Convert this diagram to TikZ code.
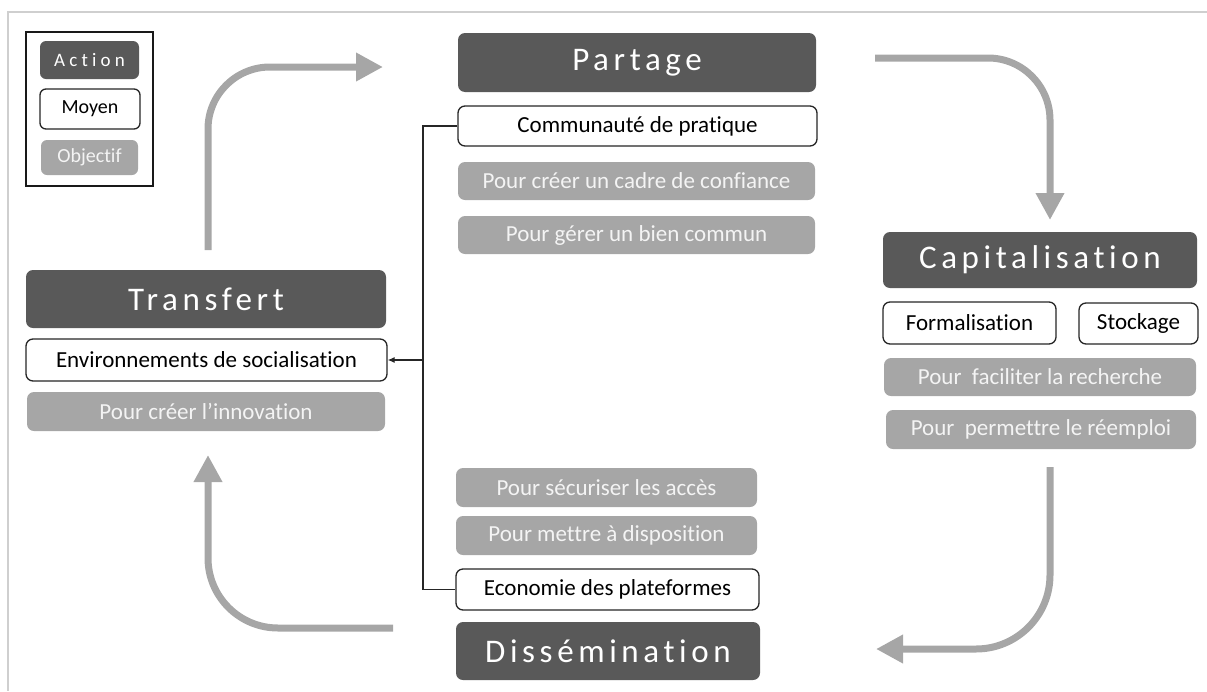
\documentclass[tikz,border=0pt]{standalone}
\usepackage{fontspec}
\setmainfont{Carlito}[Ligatures=NoCommon]
\usetikzlibrary{arrows.meta}
\definecolor{darkbox}{HTML}{595959}
\definecolor{objbox}{HTML}{A6A6A6}
\definecolor{arrowgray}{HTML}{A6A6A6}
\definecolor{framegray}{HTML}{CFCFCF}
\definecolor{objtext}{HTML}{F4F4F4}
\tikzset{
  basebox/.style={rounded corners=7pt, inner sep=0pt, align=center},
  actionbox/.style={basebox, fill=darkbox, text=white,
    font=\fontsize{33}{38}\selectfont\addfontfeature{LetterSpace=14}},
  moyenbox/.style={basebox, draw=black!85, line width=1.3pt, fill=white, text=black,
    font=\fontsize{23}{27}\selectfont},
  objbox/.style={basebox, fill=objbox, text=objtext,
    font=\fontsize{23}{27}\selectfont},
  conn/.style={draw=black!85, line width=1.2pt},
  bigarrow/.style={draw=arrowgray, line width=7pt, -{Triangle[length=27pt,width=27pt]}},
}
\begin{document}
\begin{tikzpicture}[x=1pt,y=-1pt]
\useasboundingbox (0,0) rectangle (1207,691);
% frame
\draw[framegray, line width=2pt] (1207,12) -- (8,12) -- (8,691);

% legend
\node[draw=black!90, line width=1.2pt, minimum width=127pt, minimum height=154pt, inner sep=0pt] (legend) at (89.5,109) {};
\node[basebox, fill=darkbox, text=white, rounded corners=6pt, minimum width=99pt, minimum height=38pt,
  font=\fontsize{19}{22}\selectfont\addfontfeature{LetterSpace=22}] (lgaction) at (89.5,60) {Action};
\node[moyenbox, rounded corners=6pt, minimum width=100pt, minimum height=40pt, font=\fontsize{20}{24}\selectfont] (lgmoyen) at (90,109) {Moyen};
\node[objbox, rounded corners=6pt, minimum width=97pt, minimum height=35pt, font=\fontsize{20}{24}\selectfont] (lgobj) at (89.5,157.5) {Objectif};

% Partage
\node[actionbox, minimum width=358pt, minimum height=59pt] (partage) at (637,62.5) {Partage};
\node[moyenbox, minimum width=359pt, minimum height=40pt] (comm) at (637.5,126) {Communauté de pratique};
\node[objbox, minimum width=357pt, minimum height=38pt] (cadre) at (636.5,181) {Pour créer un cadre de confiance};
\node[objbox, minimum width=357pt, minimum height=38pt] (bien) at (636.5,235) {Pour gérer un bien commun};

% Capitalisation
\node[actionbox, minimum width=314pt, minimum height=56pt] (capi) at (1040,260) {Capitalisation};
\node[moyenbox, minimum width=173pt, minimum height=42pt] (forma) at (969.5,323) {Formalisation};
\node[moyenbox, minimum width=119pt, minimum height=41pt] (stock) at (1138.5,323.5) {Stockage};
\node[objbox, minimum width=312pt, minimum height=38pt] (facil) at (1040,377) {Pour~ faciliter la recherche};
\node[objbox, minimum width=310pt, minimum height=39pt] (reemp) at (1041,429.5) {Pour~ permettre le réemploi};

% Transfert
\node[actionbox, minimum width=360pt, minimum height=58pt] (transfert) at (206,299) {Transfert};
\node[moyenbox, minimum width=361pt, minimum height=42pt] (env) at (206.5,360) {Environnements de socialisation};
\node[objbox, minimum width=358pt, minimum height=39pt] (innov) at (206,411.5) {Pour créer l’innovation};

% Dissemination
\node[objbox, minimum width=301pt, minimum height=39pt] (secur) at (606.5,487.5) {Pour sécuriser les accès};
\node[objbox, minimum width=301pt, minimum height=39pt] (dispo) at (606.5,535.5) {Pour mettre à disposition};
\node[moyenbox, minimum width=303pt, minimum height=41pt] (eco) at (607.5,589.5) {Economie des plateformes};
\node[actionbox, minimum width=304pt, minimum height=58pt] (dissem) at (608,651) {Dissémination};

% connectors
\coordinate (bus) at (423,360);
\draw[conn] (comm.west) -- (comm.west -| bus) -- (eco.west -| bus) -- (eco.west);
\draw[conn, -{Latex[length=7pt,width=6pt]}] (bus) -- (env.east);

% big cycle arrows
\coordinate (tlA) at (208,250);
\coordinate (tlB) at (383,67);
\coordinate (trA) at (875,58);
\coordinate (trB) at (1050,220);
\coordinate (brA) at (1050,467);
\coordinate (brB) at (876,649);
\coordinate (blA) at (393,628);
\coordinate (blB) at (208,455);
\draw[bigarrow, rounded corners=62pt] (tlA) |- (tlB);
\draw[bigarrow, rounded corners=62pt] (trA) -| (trB);
\draw[bigarrow, rounded corners=74pt] (brA) |- (brB);
\draw[bigarrow, rounded corners=70pt] (blA) -| (blB);
\end{tikzpicture}
\end{document}
